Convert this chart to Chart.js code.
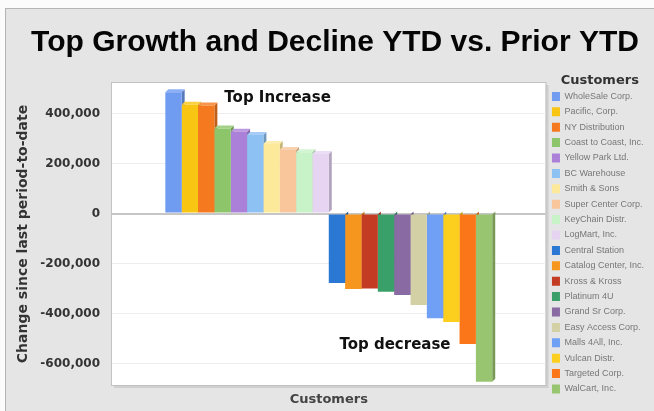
<!DOCTYPE html>
<html>
<head>
<meta charset="utf-8">
<script src="https://cdn.jsdelivr.net/npm/chart.js@4.4.1/dist/chart.umd.min.js"></script>
<style>
    html, body { margin: 0; padding: 0; width: 654px; height: 411px; overflow: hidden; background: #fbfbfb; }
    .frame { position: absolute; left: 5px; top: 8px; width: 660px; height: 420px; background: #e5e5e5;
             border-top: 1px solid #b4b4b4; border-left: 1px solid #b4b4b4; }
    .wrap { position: absolute; left: 16px; top: 9px; width: 638px; height: 402px; }
</style>
</head>
<body>
<div class="frame"></div>
<div class="wrap"><canvas id="growthChart" width="638" height="402"></canvas></div>

<script>
const customers = [
    'WholeSale Corp.', 'Pacific, Corp.', 'NY Distribution', 'Coast to Coast, Inc.', 'Yellow Park Ltd.',
    'BC Warehouse', 'Smith & Sons', 'Super Center Corp.', 'KeyChain Distr.', 'LogMart, Inc.',
    'Central Station', 'Catalog Center, Inc.', 'Kross & Kross', 'Platinum 4U', 'Grand Sr Corp.',
    'Easy Access Corp.', 'Malls 4All, Inc.', 'Vulcan Distr.', 'Targeted Corp.', 'WalCart, Inc.'
];
const changeValues = [
    485000, 435000, 432000, 340000, 327000, 314000, 278000, 254000, 245000, 238000,
    -278000, -302000, -300000, -313000, -326000, -366000, -419000, -434000, -522000, -673000
];
const barColors = [
    '#6f9cf0', '#f9c513', '#f57a1f', '#8cc56a', '#ab80d8', '#8ec1f3', '#fde99a', '#f9c59a', '#c8f2c8', '#e6d4f2',
    '#2a78d4', '#f7961f', '#c23b22', '#3aa06a', '#8a6aa3', '#d4d0a6', '#6fa0f5', '#fccf1f', '#fb7619', '#98c670'
];
const yTicks = [-600000, -400000, -200000, 0, 200000, 400000];
const yMin = -686000;
const yMax = 522000;
const notes = ['Top Increase', 'Top decrease'];

function shade(hex, f) {
    const n = parseInt(hex.slice(1), 16);
    const c = [(n >> 16) & 255, (n >> 8) & 255, n & 255].map(v =>
        Math.round(f < 1 ? v * f : v + (255 - v) * (f - 1)));
    return `rgb(${c[0]}, ${c[1]}, ${c[2]})`;
}

// white plot area with a thin border and shadow
const plotBackground = {
    id: 'plotBackground',
    beforeDraw(chart) {
        const { ctx, chartArea: a } = chart;
        ctx.save();
        ctx.fillStyle = '#cfcfcf';
        ctx.fillRect(a.left + 2, a.top + 2, a.right - a.left + 1, a.bottom - a.top + 1);
        ctx.fillStyle = '#ffffff';
        ctx.fillRect(a.left, a.top, a.right - a.left, a.bottom - a.top);
        ctx.strokeStyle = '#c2c2c2';
        ctx.lineWidth = 1;
        ctx.strokeRect(a.left - 0.5, a.top - 0.5, a.right - a.left + 1, a.bottom - a.top + 1);
        ctx.restore();
    }
};

// small depth faces behind each bar
const barDepth = {
    id: 'barDepth',
    beforeDatasetsDraw(chart) {
        const ctx = chart.ctx;
        const d = 3;
        ctx.save();
        chart.data.datasets.forEach((ds, i) => {
            const bar = chart.getDatasetMeta(i).data[0];
            const L = bar.x - bar.width / 2, R = bar.x + bar.width / 2;
            const top = Math.min(bar.y, bar.base), bottom = Math.max(bar.y, bar.base);
            ctx.fillStyle = shade(ds.backgroundColor, 0.78);
            ctx.beginPath();
            ctx.moveTo(R, top); ctx.lineTo(R + d, top - d); ctx.lineTo(R + d, bottom - d); ctx.lineTo(R, bottom);
            ctx.closePath(); ctx.fill();
            if (bar.y < bar.base) {
                ctx.fillStyle = shade(ds.backgroundColor, 1.2);
                ctx.beginPath();
                ctx.moveTo(L, top); ctx.lineTo(L + d, top - d); ctx.lineTo(R + d, top - d); ctx.lineTo(R, top);
                ctx.closePath(); ctx.fill();
            }
        });
        ctx.restore();
    }
};

const notesPlugin = {
    id: 'notes',
    afterDatasetsDraw(chart) {
        const { ctx, scales: { y } } = chart;
        const up = chart.getDatasetMeta(2).data[0];
        const down = chart.getDatasetMeta(18).data[0];
        ctx.save();
        ctx.font = 'bold 15px "DejaVu Sans"';
        ctx.fillStyle = '#111111';
        ctx.textBaseline = 'middle';
        ctx.textAlign = 'left';
        ctx.fillText(notes[0], up.x + up.width / 2 + 10, y.getPixelForValue(460000));
        ctx.textAlign = 'right';
        ctx.fillText(notes[1], down.x - down.width / 2 - 9, y.getPixelForValue(-526000));
        ctx.restore();
    }
};

new Chart(document.getElementById('growthChart'), {
    type: 'bar',
    data: {
        labels: [''],
        datasets: customers.map((name, i) => ({
            label: name,
            data: [changeValues[i]],
            backgroundColor: barColors[i],
            borderWidth: 0,
            categoryPercentage: 0.754,
            barPercentage: 1.0
        }))
    },
    options: {
        responsive: false,
        animation: false,
        layout: { padding: 0 },
        plugins: {
            tooltip: { enabled: false },
            title: {
                display: true,
                text: 'Top Growth and Decline YTD vs. Prior YTD',
                color: '#050505',
                font: { family: '"Liberation Sans", Arial', size: 30, weight: 'bold', lineHeight: 1.2 },
                padding: { top: 16, bottom: 22 }
            },
            legend: {
                position: 'right',
                align: 'start',
                title: {
                    display: true,
                    text: 'Customers',
                    color: '#333333',
                    font: { family: '"DejaVu Sans"', size: 13, weight: 'bold', lineHeight: 1 },
                    padding: { top: 65.5, bottom: -2 }
                },
                labels: {
                    boxWidth: 8,
                    boxHeight: 9,
                    padding: 6.4,
                    color: '#777777',
                    font: { family: '"Liberation Sans", Arial', size: 9 }
                }
            }
        },
        scales: {
            x: {
                ticks: { display: false },
                grid: { display: false },
                border: { display: false },
                title: {
                    display: true,
                    text: 'Customers',
                    color: '#444444',
                    font: { family: '"DejaVu Sans"', size: 13, weight: 'bold' },
                    padding: { top: 0, bottom: 4 }
                },
                afterFit(scale) { scale.height = 26; }
            },
            y: {
                min: yMin,
                max: yMax,
                afterBuildTicks(scale) { scale.ticks = yTicks.map(v => ({ value: v })); },
                ticks: {
                    padding: 12,
                    color: '#333333',
                    font: { family: '"DejaVu Sans"', size: 12, weight: 'bold' },
                    callback: v => v.toLocaleString('en-US')
                },
                grid: {
                    drawTicks: false,
                    color: c => c.tick && c.tick.value === 0 ? '#c6c6c6' : '#ededed',
                    lineWidth: c => c.tick && c.tick.value === 0 ? 2 : 1
                },
                border: { display: false },
                title: {
                    display: true,
                    text: 'Change since last period-to-date',
                    color: '#333333',
                    font: { family: '"DejaVu Sans"', size: 14, weight: 'bold', lineHeight: 1 },
                    padding: 0
                },
                afterFit(scale) { scale.width = 96; }
            }
        }
    },
    plugins: [plotBackground, barDepth, notesPlugin]
});
</script>
</body>
</html>
